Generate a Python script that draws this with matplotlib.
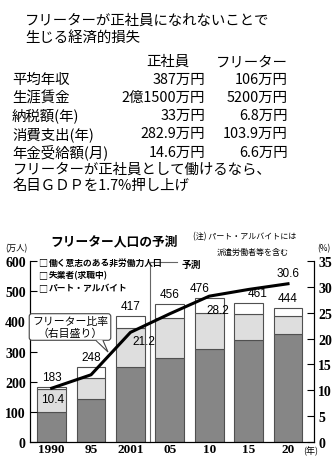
import numpy as np
import matplotlib
matplotlib.use("Agg")
import matplotlib.pyplot as plt
from matplotlib.patches import Polygon

plt.rcParams["font.family"] = ["Noto Sans CJK JP", "DejaVu Sans"]

# ---- table data ----
TITLE = "フリーターが正社員になれないことで\n生じる経済的損失"
COLS = ["正社員", "フリーター"]
ROW_LABELS = ["平均年収", "生涯賃金", "納税額(年)", "消費支出(年)", "年金受給額(月)"]
SEISHAIN = ["387万円", "2億1500万円", "33万円", "282.9万円", "14.6万円"]
FREETER = ["106万円", "5200万円", "6.8万円", "103.9万円", "6.6万円"]
NOTE = "フリーターが正社員として働けるなら、\n名目ＧＤＰを1.7%押し上げ"

# ---- chart data ----
years = ["1990", "95", "2001", "05", "10", "15", "20"]
part_time = [100, 141, 247, 280, 308, 337, 357]      # パート・アルバイト
unemployed = [75, 72, 130, 130, 119, 87, 61]         # 失業者(求職中)
totals = [183, 248, 417, 456, 476, 461, 444]
ratio = [10.4, 13.0, 21.2, 24.8, 28.2, 29.5, 30.6]   # フリーター比率 (%)
ratio_labels = {0: "10.4", 2: "21.2", 4: "28.2", 6: "30.6"}
legend_labels = ["働く意志のある非労働力人口", "失業者(求職中)", "パート・アルバイト"]

W, H = 336, 460
fig = plt.figure(figsize=(W / 100, H / 100), dpi=100)


def fx(x):
    return x / W


def fy(y):
    return 1 - y / H


# ---- top text block ----
fig.text(fx(25), fy(14), TITLE, fontsize=10.4, va="top", ha="left", linespacing=1.25)
fig.text(fx(168), fy(62), COLS[0], fontsize=10.4, va="center", ha="center")
fig.text(fx(288), fy(62), COLS[1], fontsize=10.4, va="center", ha="right")
for i, (lab, a, b) in enumerate(zip(ROW_LABELS, SEISHAIN, FREETER)):
    y = 80 + i * 18.1
    fig.text(fx(12), fy(y), lab, fontsize=10.4, va="center", ha="left")
    fig.text(fx(205), fy(y), a, fontsize=10.4, va="center", ha="right")
    fig.text(fx(288), fy(y), b, fontsize=10.4, va="center", ha="right")
fig.text(fx(13), fy(163), NOTE, fontsize=10.4, va="top", ha="left", linespacing=1.2)

# ---- chart ----
ax = fig.add_axes([fx(30), fy(443), fx(314) - fx(30), fy(262) - fy(443)])
x = np.arange(len(years))
bw = 0.73
dark, light = "#868686", "#dedede"
edge = "#505050"
top_part = [t - p - u for t, p, u in zip(totals, part_time, unemployed)]
ax.bar(x, part_time, bw, color=dark, edgecolor=edge, lw=0.8)
ax.bar(x, unemployed, bw, bottom=part_time, color=light, edgecolor=edge, lw=0.8)
ax.bar(x, top_part, bw, bottom=np.add(part_time, unemployed), color="white",
       edgecolor=edge, lw=0.8)

ax.set_xlim(-0.55, 6.66)
ax.set_ylim(0, 600)
ax.set_yticks(range(0, 601, 100))
ax.set_xticks(x)
ax.set_xticklabels(years, family="Liberation Serif", fontsize=9.5, fontweight="bold")
ax.tick_params(axis="x", length=0, pad=1)
ax.tick_params(axis="y", direction="in", length=5, labelsize=10, pad=3)
for t in ax.get_yticklabels():
    t.set_family("Liberation Serif")
    t.set_fontweight("bold")
ax.spines["top"].set_visible(False)

label_dx = [0, 0, 0, 0, -0.25, 0.22, 0]
for i, t in enumerate(totals):
    ax.annotate(str(t), (x[i] + label_dx[i], t), xytext=(0, 3), textcoords="offset points",
                ha="center", va="bottom", fontsize=8.5, family="Liberation Sans")

# forecast divider
ax.plot([2.5, 2.5], [0, 598], color="#666666", lw=0.8, clip_on=False)
ax.plot([2.5, 3.17], [598, 598], color="#666666", lw=0.8, clip_on=False)
ax.text(3.3, 590, "予測", fontsize=7, fontweight="bold", va="center", ha="left")

# legend
for i, lab in enumerate(legend_labels):
    y = 263 + i * 13
    fig.text(fx(38), fy(y), "□", fontsize=6.5, va="center", ha="left")
    fig.text(fx(49), fy(y), lab, fontsize=6.3, fontweight="bold", va="center", ha="left")

ax2 = ax.twinx()
ax2.set_ylim(0, 35)
ax2.set_yticks(range(0, 36, 5))
ax2.tick_params(axis="y", direction="in", length=5, labelsize=10, pad=3)
for t in ax2.get_yticklabels():
    t.set_family("Liberation Serif")
    t.set_fontweight("bold")
ax2.spines["top"].set_visible(False)
ax2.plot(x, ratio, color="black", lw=2.2)
offs = {0: (1, -8), 2: (10, -6), 4: (6, -10), 6: (0, 8)}
for i, s in ratio_labels.items():
    ax2.annotate(s, (x[i], ratio[i]), xytext=offs[i], textcoords="offset points",
                 ha="center", va="center", fontsize=8.5, family="Liberation Sans")

# callout box with tail pointing at the ratio line
ax2.text(fx(70), fy(328), "フリーター比率\n（右目盛り）", transform=fig.transFigure,
         ha="center", va="center", fontsize=7.8, linespacing=1.1, zorder=5,
         bbox=dict(boxstyle="round,pad=0.25", fc="white", ec="#444444", lw=0.8))
tail = [(fx(96), fy(341.5)), (fx(108), fy(353)), (fx(103), fy(341.5))]
ax2.add_patch(Polygon(tail, closed=False, transform=fig.transFigure, fc="white",
                      ec="#444444", lw=0.8, clip_on=False, zorder=6))
ax2.add_patch(Polygon([(fx(96.6), fy(341.2)), (fx(102.4), fy(341.2)), (fx(99.5), fy(344))],
                      transform=fig.transFigure, fc="white", ec="none",
                      clip_on=False, zorder=6))

# titles and notes
fig.text(fx(50), fy(242), "フリーター人口の予測", fontsize=9.2, fontweight="bold",
         va="center", ha="left")
fig.text(fx(193), fy(237), "(注) パート・アルバイトには", fontsize=5.8, va="center", ha="left")
fig.text(fx(217), fy(252), "派遣労働者等を含む", fontsize=5.8, va="center", ha="left")
fig.text(fx(5), fy(249), "(万人)", fontsize=6, va="center", ha="left")
fig.text(fx(317), fy(249), "(%)", fontsize=6, va="center", ha="left")
fig.text(fx(303), fy(451), "(年)", fontsize=6.5, va="center", ha="left")

fig.savefig("out.png", dpi=100)
